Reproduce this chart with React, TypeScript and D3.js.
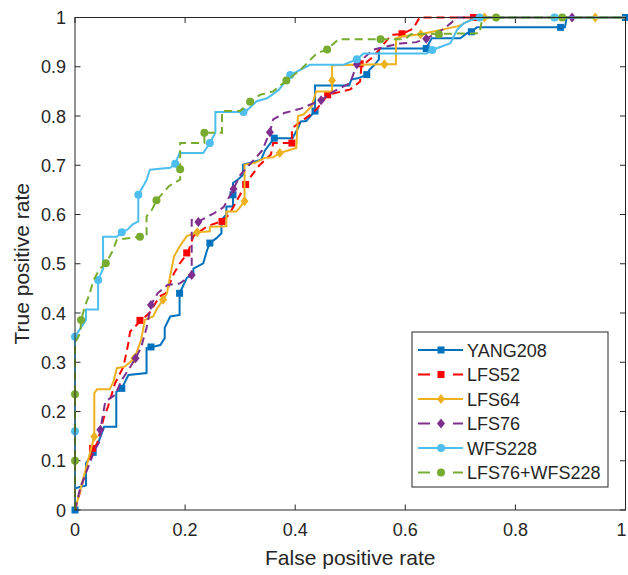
import React from "react";
import * as d3 from "d3";

type P = [number, number];

const SERIES_NAMES = ["YANG208", "LFS52", "LFS64", "LFS76", "WFS228", "LFS76+WFS228"];

const yang208: P[] = [[0,0],[0,0.044],[0.02,0.05],[0.02,0.095],[0.033,0.117],[0.044,0.142],[0.053,0.169],[0.075,0.169],[0.075,0.24],[0.085,0.247],[0.097,0.274],[0.13,0.278],[0.13,0.329],[0.14,0.331],[0.155,0.335],[0.163,0.349],[0.163,0.37],[0.173,0.393],[0.19,0.396],[0.19,0.44],[0.203,0.471],[0.215,0.481],[0.215,0.49],[0.233,0.501],[0.24,0.528],[0.245,0.542],[0.257,0.552],[0.266,0.562],[0.266,0.589],[0.275,0.6],[0.275,0.616],[0.287,0.616],[0.287,0.664],[0.296,0.671],[0.305,0.68],[0.305,0.701],[0.338,0.711],[0.345,0.73],[0.362,0.755],[0.395,0.755],[0.405,0.775],[0.41,0.789],[0.42,0.79],[0.436,0.81],[0.436,0.862],[0.498,0.862],[0.502,0.874],[0.515,0.877],[0.53,0.884],[0.535,0.894],[0.545,0.905],[0.552,0.915],[0.552,0.937],[0.638,0.937],[0.648,0.958],[0.7,0.958],[0.712,0.968],[0.72,0.971],[0.73,0.98],[0.89,0.98],[0.893,1],[1,1]];
const yang208Markers: P[] = [[0,0],[0.033,0.117],[0.085,0.247],[0.138,0.331],[0.19,0.44],[0.245,0.542],[0.287,0.64],[0.362,0.755],[0.436,0.81],[0.53,0.884],[0.638,0.937],[0.72,0.971],[0.882,0.98],[1,1]];

const lfs52: P[] = [[0,0],[0.015,0.06],[0.028,0.108],[0.035,0.125],[0.04,0.135],[0.052,0.186],[0.06,0.21],[0.073,0.258],[0.088,0.291],[0.097,0.339],[0.1,0.362],[0.12,0.385],[0.135,0.4],[0.154,0.434],[0.165,0.44],[0.18,0.481],[0.19,0.5],[0.205,0.522],[0.215,0.556],[0.24,0.576],[0.268,0.587],[0.28,0.6],[0.29,0.62],[0.31,0.661],[0.32,0.678],[0.335,0.7],[0.356,0.722],[0.36,0.745],[0.394,0.745],[0.394,0.775],[0.428,0.803],[0.44,0.815],[0.459,0.843],[0.5,0.854],[0.518,0.87],[0.52,0.9],[0.542,0.921],[0.575,0.965],[0.593,0.966],[0.614,0.977],[0.626,1],[1,1]];
const lfs52Markers: P[] = [[0.032,0.125],[0.118,0.385],[0.203,0.522],[0.267,0.586],[0.31,0.661],[0.394,0.745],[0.459,0.843],[0.518,0.906],[0.594,0.967],[0.724,1]];

const lfs64: P[] = [[0,0],[0.035,0.149],[0.035,0.237],[0.04,0.245],[0.063,0.245],[0.07,0.261],[0.076,0.288],[0.09,0.291],[0.1,0.3],[0.108,0.308],[0.12,0.345],[0.127,0.386],[0.142,0.393],[0.148,0.407],[0.16,0.427],[0.167,0.44],[0.172,0.47],[0.18,0.515],[0.19,0.535],[0.203,0.556],[0.222,0.564],[0.245,0.566],[0.245,0.575],[0.275,0.576],[0.275,0.606],[0.293,0.606],[0.3,0.615],[0.308,0.627],[0.308,0.701],[0.327,0.705],[0.345,0.715],[0.36,0.716],[0.372,0.725],[0.402,0.735],[0.405,0.8],[0.415,0.803],[0.43,0.82],[0.438,0.85],[0.467,0.85],[0.467,0.903],[0.562,0.905],[0.583,0.905],[0.583,0.958],[0.595,0.962],[0.628,0.966],[0.698,0.983],[0.72,0.996],[0.744,1],[1,1]];
const lfs64Markers: P[] = [[0.035,0.149],[0.108,0.308],[0.16,0.427],[0.222,0.564],[0.308,0.627],[0.372,0.725],[0.467,0.872],[0.562,0.905],[0.628,0.966],[0.744,1],[0.945,1]];

const lfs76: P[] = [[0,0],[0.01,0.047],[0.025,0.09],[0.035,0.12],[0.046,0.142],[0.046,0.163],[0.055,0.22],[0.073,0.234],[0.085,0.264],[0.1,0.29],[0.11,0.308],[0.12,0.33],[0.13,0.37],[0.138,0.416],[0.15,0.44],[0.168,0.457],[0.19,0.46],[0.212,0.477],[0.212,0.589],[0.224,0.586],[0.24,0.595],[0.253,0.603],[0.27,0.615],[0.288,0.652],[0.3,0.68],[0.325,0.711],[0.34,0.73],[0.354,0.767],[0.36,0.793],[0.38,0.806],[0.41,0.815],[0.447,0.832],[0.47,0.85],[0.5,0.867],[0.512,0.905],[0.542,0.935],[0.59,0.947],[0.62,0.95],[0.638,0.957],[0.669,0.976],[0.695,1],[1,1]];
const lfs76Markers: P[] = [[0.046,0.163],[0.11,0.308],[0.138,0.416],[0.212,0.477],[0.224,0.585],[0.288,0.652],[0.354,0.767],[0.447,0.832],[0.512,0.905],[0.638,0.957],[0.903,1]];

const wfs228: P[] = [[0,0],[0,0.352],[0.02,0.386],[0.02,0.407],[0.042,0.407],[0.042,0.467],[0.051,0.49],[0.051,0.555],[0.076,0.555],[0.085,0.564],[0.096,0.57],[0.105,0.58],[0.115,0.586],[0.115,0.64],[0.125,0.66],[0.13,0.67],[0.136,0.691],[0.173,0.695],[0.182,0.703],[0.19,0.725],[0.233,0.725],[0.245,0.745],[0.255,0.766],[0.255,0.808],[0.309,0.808],[0.33,0.83],[0.349,0.836],[0.37,0.853],[0.391,0.883],[0.427,0.904],[0.488,0.904],[0.512,0.915],[0.524,0.927],[0.639,0.927],[0.649,0.934],[0.682,0.948],[0.694,0.975],[0.706,0.988],[0.72,0.995],[0.735,1],[1,1]];
const wfs228Markers: P[] = [[0,0.16],[0,0.352],[0.042,0.467],[0.085,0.564],[0.115,0.64],[0.182,0.703],[0.245,0.745],[0.306,0.808],[0.391,0.883],[0.512,0.915],[0.649,0.934],[0.735,1],[0.871,1]];

const lfs76wfs228: P[] = [[0,0],[0,0.34],[0.01,0.36],[0.011,0.386],[0.02,0.42],[0.025,0.434],[0.034,0.467],[0.045,0.49],[0.056,0.501],[0.068,0.525],[0.076,0.549],[0.118,0.555],[0.13,0.555],[0.13,0.596],[0.14,0.61],[0.148,0.629],[0.165,0.65],[0.17,0.657],[0.191,0.671],[0.191,0.745],[0.235,0.745],[0.235,0.766],[0.267,0.766],[0.267,0.81],[0.3,0.81],[0.318,0.829],[0.336,0.843],[0.36,0.85],[0.384,0.872],[0.409,0.893],[0.439,0.927],[0.458,0.935],[0.479,0.956],[0.6,0.956],[0.61,0.966],[0.735,0.968],[0.74,1],[1,1]];
const lfs76wfs228Markers: P[] = [[0,0.1],[0,0.235],[0.011,0.386],[0.056,0.501],[0.118,0.555],[0.148,0.629],[0.191,0.692],[0.235,0.766],[0.318,0.829],[0.384,0.872],[0.458,0.935],[0.555,0.956],[0.661,0.966],[0.765,1],[0.885,1]];

const X_TICKS = [0, 0.2, 0.4, 0.6, 0.8, 1];
const X_TICK_LABELS = ["0", "0.2", "0.4", "0.6", "0.8", "1"];
const Y_TICKS = [0, 0.1, 0.2, 0.3, 0.4, 0.5, 0.6, 0.7, 0.8, 0.9, 1];
const Y_TICK_LABELS = ["0", "0.1", "0.2", "0.3", "0.4", "0.5", "0.6", "0.7", "0.8", "0.9", "1"];

const X_LABEL = "False positive rate";
const Y_LABEL = "True positive rate";

const SERIES = [
  { name: SERIES_NAMES[0], data: yang208, markers: yang208Markers, color: "#0072BD", dashed: false, marker: "square" },
  { name: SERIES_NAMES[1], data: lfs52, markers: lfs52Markers, color: "#FF0000", dashed: true, marker: "square" },
  { name: SERIES_NAMES[2], data: lfs64, markers: lfs64Markers, color: "#EDB120", dashed: false, marker: "diamond" },
  { name: SERIES_NAMES[3], data: lfs76, markers: lfs76Markers, color: "#7E2F8E", dashed: true, marker: "diamond" },
  { name: SERIES_NAMES[4], data: wfs228, markers: wfs228Markers, color: "#4DBEEE", dashed: false, marker: "circle" },
  { name: SERIES_NAMES[5], data: lfs76wfs228, markers: lfs76wfs228Markers, color: "#77AC30", dashed: true, marker: "circle" },
];

const W = 628, H = 575;
const M = { left: 75, right: 625.5, top: 17.5, bottom: 510 };
const FONT = "'Liberation Sans', Arial, Helvetica, sans-serif";
const TXT = "#262626";

function Marker({ kind, x, y, color }: { kind: string; x: number; y: number; color: string }) {
  if (kind === "square") return <rect x={x - 3.5} y={y - 3.5} width={7} height={7} fill={color} />;
  if (kind === "circle") return <circle cx={x} cy={y} r={4} fill={color} />;
  return <path d={`M${x},${y - 5}L${x + 4},${y}L${x},${y + 5}L${x - 4},${y}Z`} fill={color} />;
}

export default function App() {
  const xs = d3.scaleLinear().domain([0, 1]).range([M.left, M.right]);
  const ys = d3.scaleLinear().domain([0, 1]).range([M.bottom, M.top]);
  const line = d3.line<P>().x((d) => xs(d[0])).y((d) => ys(d[1]));
  const tl = 5.5;

  const legX = 412, legY = 332, legW = 196, legH = 155, rowH = 24.5;

  return (
    <svg width={W} height={H} style={{ position: "absolute", left: 0, top: 0, background: "#fff" }} fontFamily={FONT}>
      <rect x={0} y={0} width={W} height={H} fill="#fff" />
      <defs>
        <clipPath id="plotclip">
          <rect x={M.left - 6} y={M.top - 6} width={M.right - M.left + 12} height={M.bottom - M.top + 12} />
        </clipPath>
      </defs>
      {X_TICKS.map((t, i) => (
        <g key={"xt" + i}>
          <line x1={xs(t)} x2={xs(t)} y1={M.bottom} y2={M.bottom - tl} stroke={TXT} strokeWidth={1} />
          <line x1={xs(t)} x2={xs(t)} y1={M.top} y2={M.top + tl} stroke={TXT} strokeWidth={1} />
          <text x={i === X_TICKS.length - 1 ? xs(t) - 4 : xs(t)} y={M.bottom + 26} textAnchor="middle" fontSize={18} fill={TXT}>{X_TICK_LABELS[i]}</text>
        </g>
      ))}
      {Y_TICKS.map((t, i) => (
        <g key={"yt" + i}>
          <line x1={M.left} x2={M.left + tl} y1={ys(t)} y2={ys(t)} stroke={TXT} strokeWidth={1} />
          <line x1={M.right} x2={M.right - tl} y1={ys(t)} y2={ys(t)} stroke={TXT} strokeWidth={1} />
          <text x={M.left - 9} y={ys(t) + 6.5} textAnchor="end" fontSize={18} fill={TXT}>{Y_TICK_LABELS[i]}</text>
        </g>
      ))}
      <text x={(M.left + M.right) / 2} y={565} textAnchor="middle" fontSize={21} fill={TXT}>{X_LABEL}</text>
      <text transform={`translate(29,${(M.top + M.bottom) / 2}) rotate(-90)`} textAnchor="middle" fontSize={21} fill={TXT}>{Y_LABEL}</text>

      <g clipPath="url(#plotclip)">
        {SERIES.map((s) => (
          <g key={s.name}>
            <path d={line(s.data) || ""} fill="none" stroke={s.color} strokeWidth={2} strokeDasharray={s.dashed ? "8 5" : undefined} strokeLinejoin="miter" />
            {s.markers.map((m, j) => (
              <Marker key={j} kind={s.marker} x={xs(m[0])} y={ys(m[1])} color={s.color} />
            ))}
          </g>
        ))}
      </g>

      <rect x={M.left} y={M.top} width={M.right - M.left} height={M.bottom - M.top} fill="none" stroke={TXT} strokeWidth={1} />

      <rect x={legX} y={legY} width={legW} height={legH} fill="#fff" stroke={TXT} strokeWidth={1} />
      {SERIES.map((s, i) => {
        const cy = legY + 18 + i * rowH;
        return (
          <g key={"lg" + i}>
            {s.dashed ? (
              <>
                <line x1={418} x2={430} y1={cy} y2={cy} stroke={s.color} strokeWidth={2} />
                <line x1={453} x2={463} y1={cy} y2={cy} stroke={s.color} strokeWidth={2} />
              </>
            ) : (
              <line x1={418} x2={463} y1={cy} y2={cy} stroke={s.color} strokeWidth={2} />
            )}
            <Marker kind={s.marker} x={441} y={cy} color={s.color} />
            <text x={467} y={cy + 6.5} fontSize={18} fill={TXT}>{s.name}</text>
          </g>
        );
      })}
    </svg>
  );
}
